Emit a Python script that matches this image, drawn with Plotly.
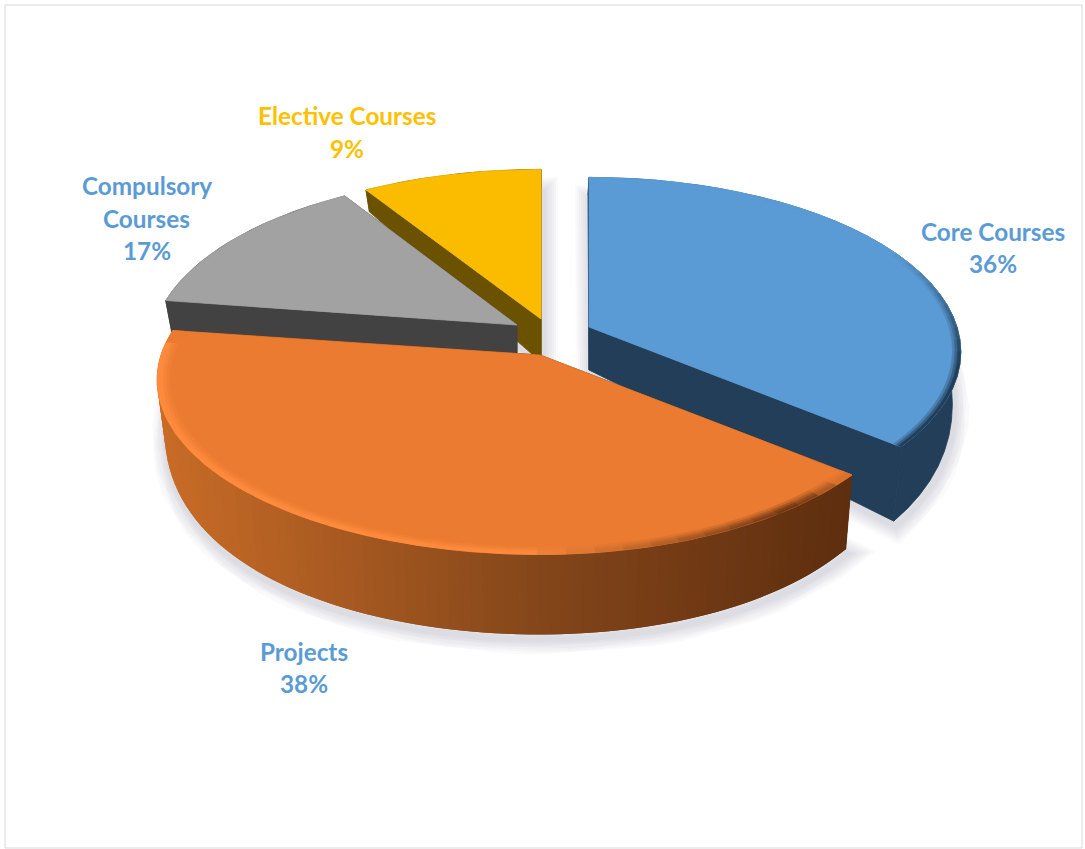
import math
import plotly.graph_objects as go

# Course structure: share of programme per category (percent)
categories = ["Core Courses", "Projects", "Compulsory Courses", "Elective Courses"]
shares = [36, 38, 17, 9]
label_lines = [["Core Courses"], ["Projects"], ["Compulsory", "Courses"], ["Elective Courses"]]

# Styling, one entry per category
top_colors = ["#5B9BD5", "#EB7B30", "#A2A2A2", "#FBBC00"]
wall_colors = ["#223E58", "#84461A", "#424242", "#6B5200"]
label_colors = ["#5B9BD5", "#5B9BD5", "#5B9BD5", "#FFC000"]
apexes = [(589, 327), (540, 355), (517, 325), (541, 319)]
left_stretch = [1.0, 1.03, 0.985, 1.0]
label_centres = [(993, 247.5), (304, 667.5), (146.5, 218), (347, 132)]
paint_order = [3, 2, 0, 1]

# Projection of the disc onto the page
WIDTH, HEIGHT = 1085, 849
RADIUS_X, RADIUS_Y, PERSPECTIVE = 368, 171, 1 / 7
WALL_LEAN, VIEW_CENTRE_X = 0.02, 540
LINE_STEP = 32.5
STEP_DEG = 4


def hex_rgb(c):
    return tuple(int(c[i:i + 2], 16) for i in (1, 3, 5))


def mix(a, b, t):
    t = max(0.0, min(1.0, t))
    ra, rb = hex_rgb(a), hex_rgb(b)
    return "#%02x%02x%02x" % tuple(round(x + (y - x) * t) for x, y in zip(ra, rb))


def view_angle(theta):
    # Slight skew of slice edges that the tilted view introduces on the left side
    return theta + 12 * math.exp(-((theta - 266.4) / 30) ** 2)


def depth_of(v):
    if v >= 0:
        return 43 + 70 * v - 33 * v * v
    return 43 + 25 * v


def project(i, theta, r):
    apex = apexes[i]
    t = math.radians(view_angle(theta))
    u, v = r * math.sin(t), -r * math.cos(t)
    s = 1 / (1 - PERSPECTIVE * v)
    stretch = left_stretch[i] if u < 0 else 1.0
    return apex[0] + RADIUS_X * u * s * stretch, apex[1] + RADIUS_Y * v * s, depth_of(v)


def lower(p):
    # Point on the floor directly below a point of the top face
    return p[0] - WALL_LEAN * (p[0] - VIEW_CENTRE_X), p[1] + p[2]


def arc(i, a0, a1, r, step=STEP_DEG):
    n = max(2, int(abs(a1 - a0) / step) + 1)
    return [project(i, a0 + (a1 - a0) * k / n, r) for k in range(n + 1)]


def polygon(points, color, edge=0.8):
    xs = [p[0] for p in points] + [points[0][0]]
    ys = [p[1] for p in points] + [points[0][1]]
    return go.Scatter(x=xs, y=ys, mode="lines", fill="toself", fillcolor=color,
                      line=dict(color=color, width=edge), hoverinfo="skip", showlegend=False)


def wall_color(x):
    # Side of the large slice darkens from left to right
    t = (x - 157) / (850 - 157)
    if t < 0.55:
        return mix("#C96C27", wall_colors[1], t / 0.55)
    return mix(wall_colors[1], "#5E2E0F", (t - 0.55) / 0.45)


def rim_color(i, theta, x):
    if i == 1:
        return mix("#FF8C3E", "#6A3512", (x - 520) / 280)
    if i == 0:
        return mix(top_colors[0], wall_colors[0], (theta - 62) / 40)
    return top_colors[i]


fig = go.Figure()

# Cumulative start and end angle of every slice, clockwise from twelve o'clock
bounds = []
total = sum(shares)
acc = 0
for share in shares:
    bounds.append((acc * 360 / total, (acc + share) * 360 / total))
    acc += share

# Soft shadows on the floor below the slices; the grey slice casts none that shows
for i in paint_order:
    if i == 2:
        continue
    a0, a1 = bounds[i]
    apex = apexes[i]
    floor = [(apex[0], apex[1] + depth_of(0))] + [lower(p) for p in arc(i, a0, a1, 1.0)]
    xs = [p[0] + 2 for p in floor] + [floor[0][0] + 2]
    ys = [p[1] + 5 for p in floor] + [floor[0][1] + 5]
    for width in (30, 26, 22, 18, 14, 10, 6):
        fig.add_trace(go.Scatter(x=xs, y=ys, mode="lines", hoverinfo="skip", showlegend=False,
                                 line=dict(color="rgba(60,60,70,0.024)", width=width)))

for i in paint_order:
    a0, a1 = bounds[i]
    apex = apexes[i]

    # Cut faces along both straight edges of the slice
    for theta in (a0, a1):
        end = project(i, theta, 1.0)
        fig.add_trace(polygon([apex, end[:2], lower(end),
                               (apex[0], apex[1] + depth_of(0))],
                              wall_colors[i] if i != 1 else "#5E2E0F"))

    # Outer wall; the gradient strips each run on under the next to hide the joins
    if i == 1:
        ring = arc(i, a0, a1, 1.0, step=1.5)
        for k in range(len(ring) - 1, 0, -1):
            start = ring[k]
            stop = ring[max(0, k - 2)]
            mid = ring[k - 1]
            fig.add_trace(polygon([start[:2], mid[:2], stop[:2], lower(stop), lower(mid), lower(start)],
                                  wall_color((start[0] + mid[0]) / 2), edge=0))
    else:
        ring = arc(i, a0, a1, 1.0)
        fig.add_trace(polygon([p[:2] for p in ring] + [lower(p) for p in reversed(ring)], wall_colors[i]))

    # Top face
    fig.add_trace(polygon([apex, *[p[:2] for p in ring]], top_colors[i]))

    # Bevelled rim, fading from the face colour into the edge colour
    if i in (0, 1):
        bands = [(0.968, 0.977, 0.25), (0.977, 0.985, 0.55), (0.985, 0.993, 0.85), (0.993, 1.0, 1.0)]
        if i == 0:
            bands = [(0.978, 0.985, 0.3), (0.985, 0.992, 0.65), (0.992, 1.0, 1.0)]
        for r0, r1, w in bands:
            inner = arc(i, a0, a1, r0)
            outer = arc(i, a0, a1, r1)
            for k in range(len(inner) - 1):
                theta = a0 + (a1 - a0) * (k + 0.5) / (len(inner) - 1)
                x = (outer[k][0] + outer[k + 1][0]) / 2
                fade = min(1.0, (theta - a0) / 12) if i == 1 else 1.0
                # the far-left end of the large slice has no highlight
                if i == 1 and theta > 262:
                    fade = 0.0
                color = mix(top_colors[i], rim_color(i, theta, x), w * fade)
                fig.add_trace(polygon([inner[k][:2], inner[k + 1][:2],
                                       outer[k + 1][:2], outer[k][:2]], color, edge=0.6))

# Category labels with their percentages, one text per line for even leading
for lines, share, centre, color in zip(label_lines, shares, label_centres, label_colors):
    rows = lines + [f"{share}%"]
    for n, row in enumerate(rows):
        fig.add_annotation(x=centre[0], y=centre[1] + (n - (len(rows) - 1) / 2) * LINE_STEP,
                           xref="x", yref="y", showarrow=False, text=row,
                           font=dict(family="Lato, Carlito, sans-serif", size=24.3, color=color, weight="bold"))

fig.update_layout(
    width=WIDTH, height=HEIGHT, margin=dict(l=0, r=0, t=0, b=0),
    paper_bgcolor="white", plot_bgcolor="white", showlegend=False,
    xaxis=dict(range=[0, WIDTH], visible=False, fixedrange=True),
    yaxis=dict(range=[HEIGHT, 0], visible=False, fixedrange=True),
    shapes=[dict(type="rect", xref="x", yref="y", x0=5, y0=5, x1=1082, y1=848,
                 line=dict(color="#D9D9D9", width=1), layer="below")],
)

fig.write_html("out.html")
